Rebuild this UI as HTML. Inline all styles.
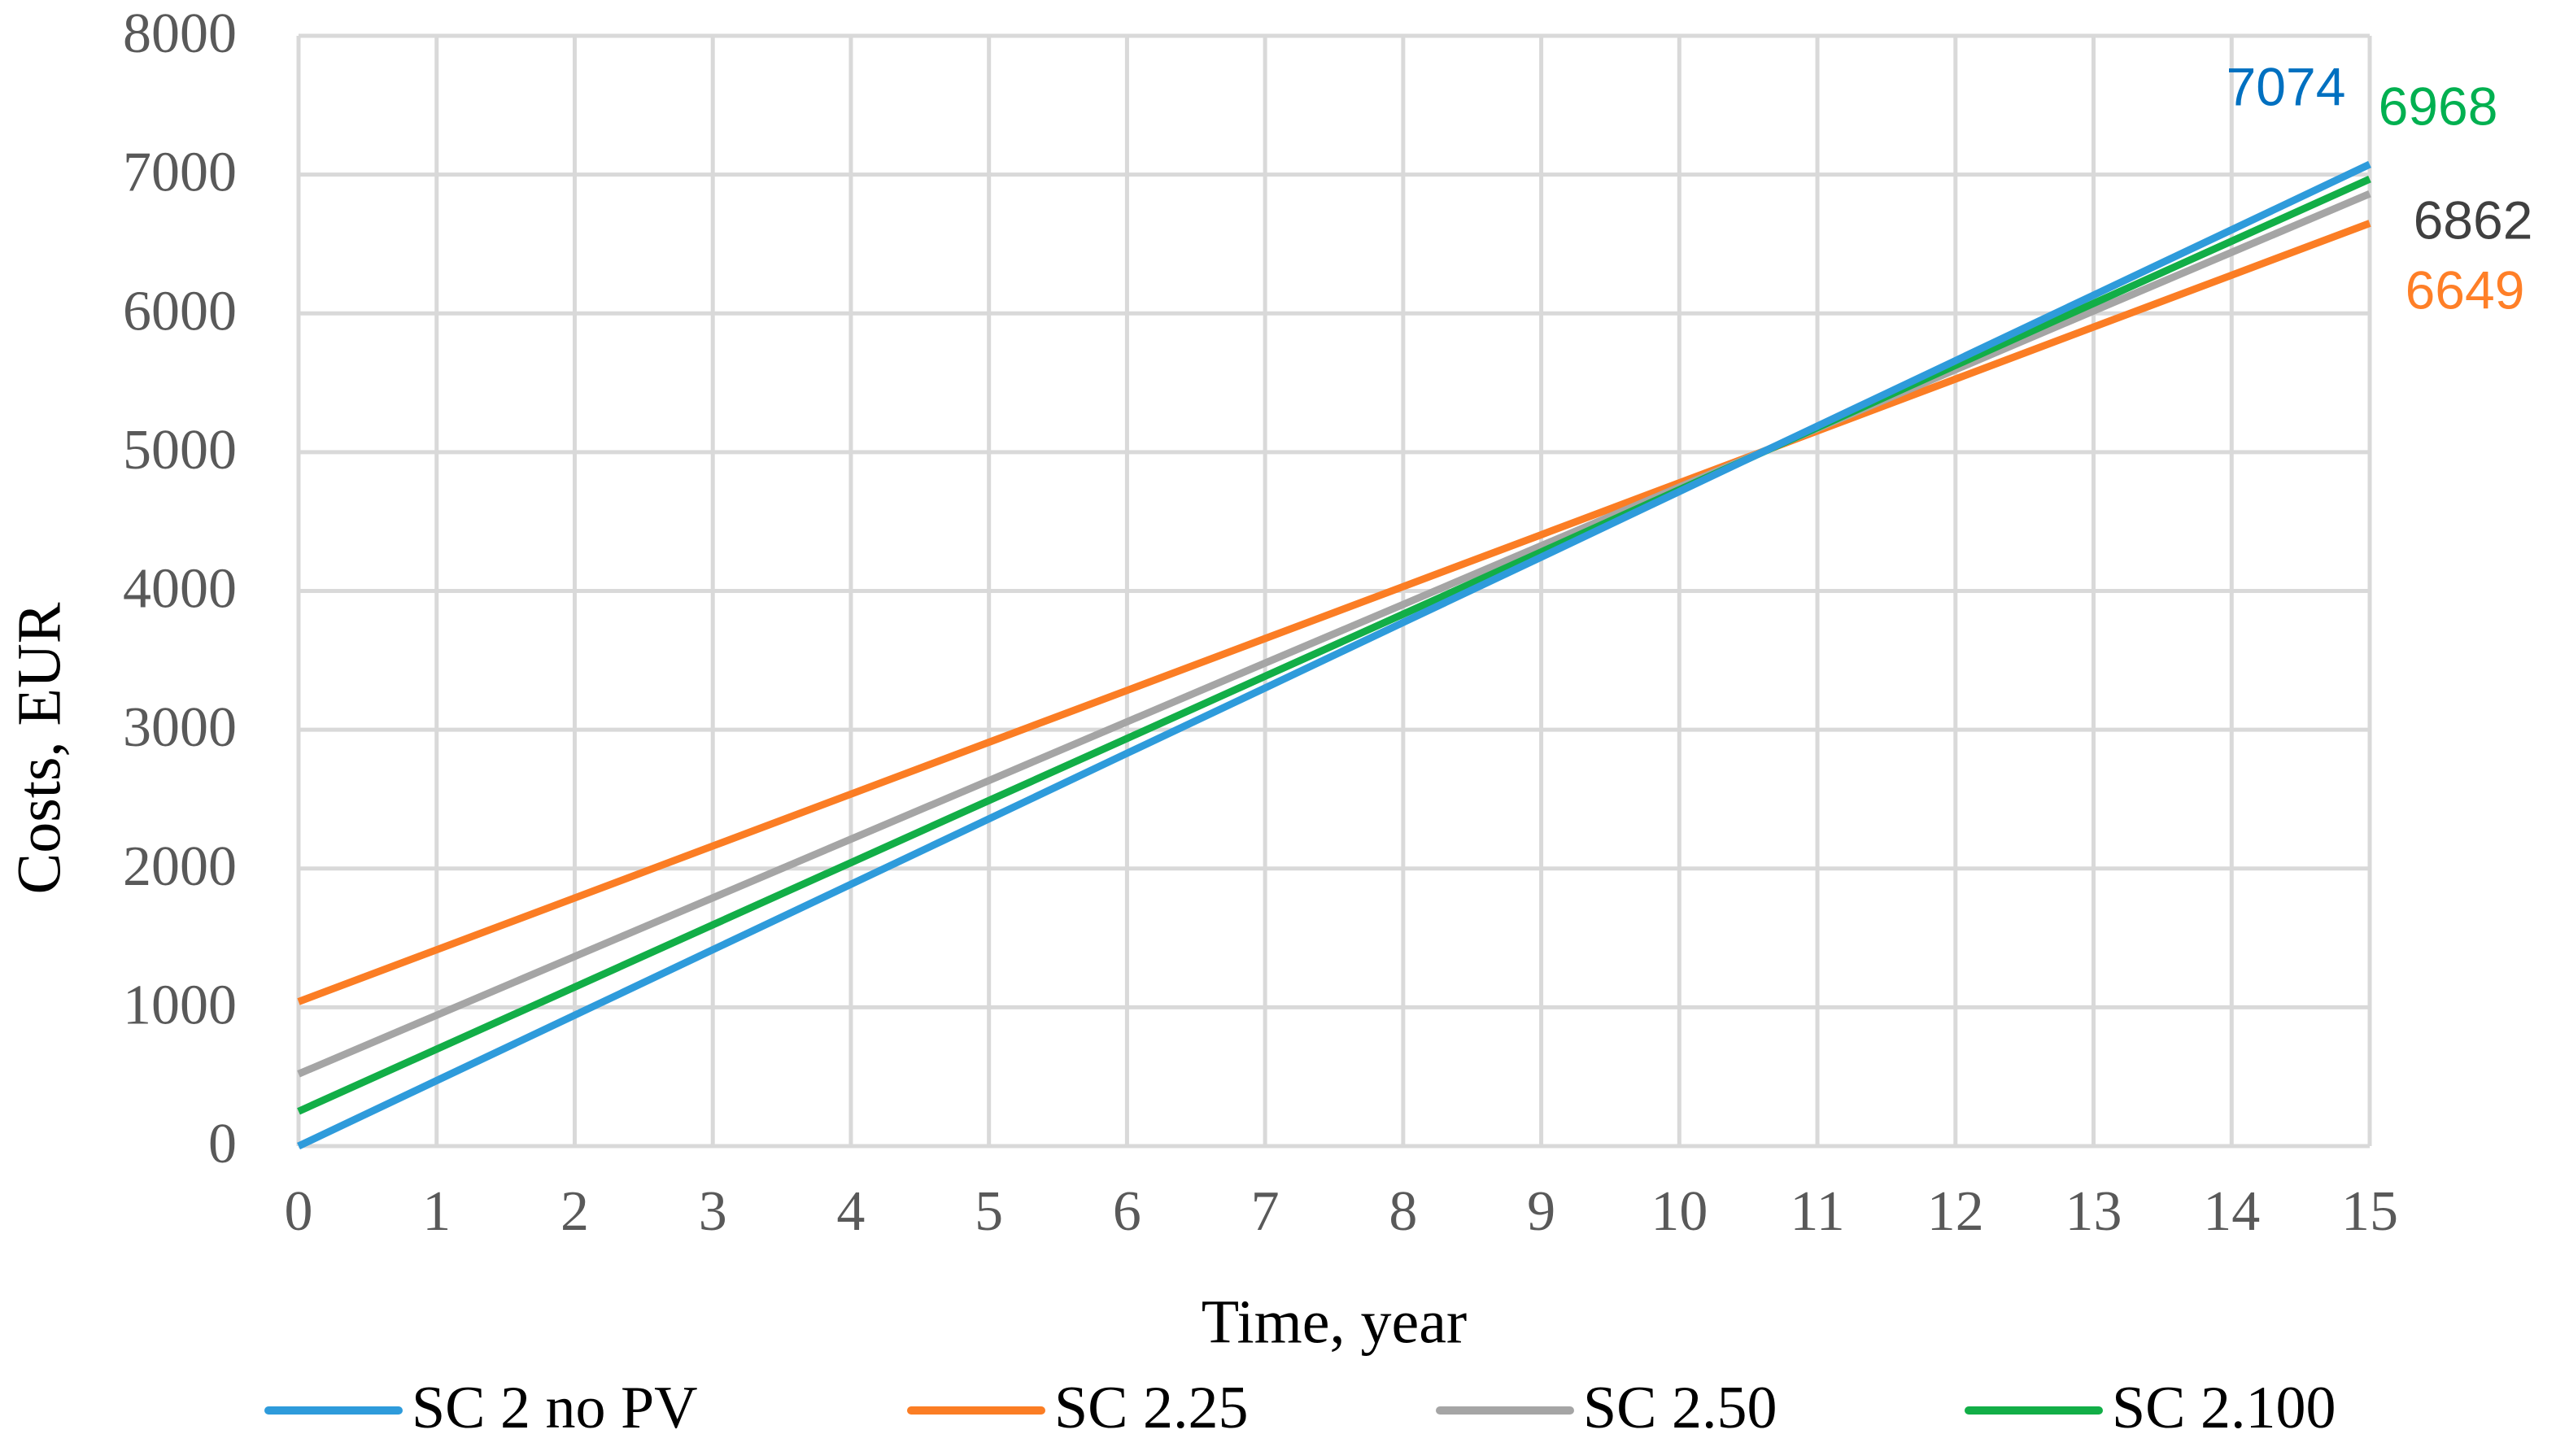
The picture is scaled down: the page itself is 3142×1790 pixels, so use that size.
<!DOCTYPE html>
<html><head><meta charset="utf-8">
<style>
html,body{margin:0;padding:0;background:#fff;}
svg{display:block;}
.tk{font-family:"Liberation Serif",serif;font-size:70px;fill:#595959;}
.ttl{font-family:"Liberation Serif",serif;font-size:76px;fill:#000;}
.lg{font-family:"Liberation Serif",serif;font-size:74px;fill:#000;}
.dl{font-family:"Liberation Sans",sans-serif;font-size:66px;}
</style></head>
<body>
<svg id="chart" width="3142" height="1790" viewBox="0 0 3142 1790" xmlns="http://www.w3.org/2000/svg">
<g id="grid"></g>
<g id="ticks"></g>
<g id="series"></g>
<g id="labels"></g>
<text class="ttl" x="1640" y="1633" text-anchor="middle" dominant-baseline="middle">Time, year</text>
<text class="ttl" transform="translate(56,920) rotate(-90)" text-anchor="middle" dominant-baseline="middle">Costs, EUR</text>
<g id="legend"></g>
</svg>
<script>
const years = [0,1,2,3,4,5,6,7,8,9,10,11,12,13,14,15];
const yTicks = [0,1000,2000,3000,4000,5000,6000,7000,8000];
const seriesNames = ["SC 2 no PV","SC 2.25","SC 2.50","SC 2.100"];
const blueVals = [0,472,943,1415,1886,2358,2830,3301,3773,4244,4716,5188,5659,6131,6602,7074];
const orangeVals = [1040,1414,1788,2162,2536,2910,3283,3657,4031,4405,4779,5153,5527,5901,6275,6649];
const grayVals = [520,943,1366,1789,2211,2634,3057,3480,3903,4326,4748,5171,5594,6017,6440,6862];
const greenVals = [250,698,1146,1594,2042,2490,2937,3385,3833,4281,4729,5177,5625,6072,6520,6968];
const endLabels = ["7074","6649","6862","6968"];

const NS="http://www.w3.org/2000/svg";
const X0=367, X1=2913, Y0=1409, Y1=44;
function xs(t){return X0+(t-0)/(15-0)*(X1-X0);}
function ys(v){return Y0-(v/8000)*(Y0-Y1);}
function mk(tag,attrs,parent){const e=document.createElementNS(NS,tag);for(const k in attrs)e.setAttribute(k,attrs[k]);parent.appendChild(e);return e;}

const grid=document.getElementById('grid');
yTicks.forEach(v=>{
  const l=mk('line',{x1:X0,x2:X1,y1:ys(v),y2:ys(v),stroke:'#d9d9d9','stroke-width':5},grid);
  
  
});
years.forEach(t=>{
  const l=mk('line',{x1:xs(t),x2:xs(t),y1:Y1,y2:Y0,stroke:'#d9d9d9','stroke-width':5},grid);
  
  
});
const ticks=document.getElementById('ticks');
yTicks.forEach(v=>{
  const t=mk('text',{x:291,y:ys(v)+4,'text-anchor':'end','dominant-baseline':'middle',class:'tk'},ticks);
  t.textContent=v;
  
  
});
years.forEach(y=>{
  const t=mk('text',{x:xs(y),y:1496,'text-anchor':'middle','dominant-baseline':'middle',class:'tk'},ticks);
  t.textContent=y;
  
  
});
const colors=["#2e9bdb","#fb7d24","#a5a5a5","#12ae47"];
const data=[blueVals,orangeVals,grayVals,greenVals];
const sg=document.getElementById('series');
const order=[1,2,3,0];
order.forEach(i=>{
  const d=data[i].map((v,k)=>(k?'L':'M')+xs(years[k]).toFixed(1)+','+ys(v).toFixed(1)).join(' ');
  const p=mk('path',{d:d,fill:'none',stroke:colors[i],'stroke-width':9,'stroke-linejoin':'round'},sg);
  
  
});
const lbl=document.getElementById('labels');
const labelColors=["#0070c0","#ff7f27","#404040","#00b050"];
const labelPos=[[2810,112],[3030,362],[3040,276],[2997,136]];
endLabels.forEach((s,i)=>{
  const t=mk('text',{x:labelPos[i][0],y:labelPos[i][1],'text-anchor':'middle','dominant-baseline':'middle',class:'dl',fill:labelColors[i]},lbl);
  t.textContent=s;
  
  
});
const lg=document.getElementById('legend');
const lgX=[330,1120,1770,2420];
seriesNames.forEach((n,i)=>{
  const g=mk('g',{},lg);
  
  
  mk('line',{x1:lgX[i],x2:lgX[i]+160,y1:1734,y2:1734,stroke:colors[i],'stroke-width':10,'stroke-linecap':'round'},g);
  const t=mk('text',{x:lgX[i]+176,y:1738,'dominant-baseline':'middle',class:'lg'},g);
  t.textContent=n;
});
</script>
</body></html>
